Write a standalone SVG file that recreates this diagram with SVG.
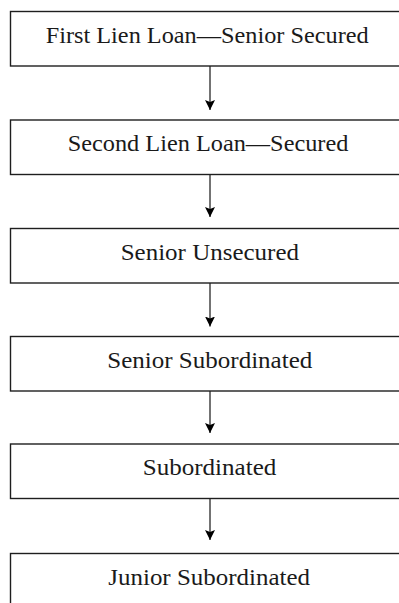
<svg xmlns="http://www.w3.org/2000/svg" width="399" height="603" viewBox="0 0 399 603">
<defs>
<style>
.box{fill:#fff;stroke:#1e1e1e;stroke-width:1.4}
.lbl{font-family:"Liberation Serif","Times New Roman",serif;font-size:23px;fill:#1a1a1a}
.conn{stroke:#444;stroke-width:1.5;fill:none}
</style>
<marker id="ah" viewBox="0 0 10 10" refX="10" refY="5" markerWidth="10" markerHeight="11" markerUnits="userSpaceOnUse" orient="auto">
<path d="M0,0 L10,5 L0,10 L2,5 Z" fill="#000"/>
</marker>
</defs>
<rect width="399" height="603" fill="#fff"/>
<g id="connectors">
<line class="conn" x1="210" y1="66" x2="210" y2="110" marker-end="url(#ah)"/>
<line class="conn" x1="210" y1="174.5" x2="210" y2="217" marker-end="url(#ah)"/>
<line class="conn" x1="210" y1="283" x2="210" y2="326.5" marker-end="url(#ah)"/>
<line class="conn" x1="210" y1="391" x2="210" y2="433" marker-end="url(#ah)"/>
<line class="conn" x1="210" y1="498.5" x2="210" y2="540" marker-end="url(#ah)"/>
</g>
<g id="node1">
<rect class="box" x="10.5" y="11.5" width="398" height="54.5"/>
<text class="lbl" x="45.7" y="42.7" textLength="323" lengthAdjust="spacingAndGlyphs">First Lien Loan—Senior Secured</text>
</g>
<g id="node2">
<rect class="box" x="10.5" y="120" width="398" height="54.5"/>
<text class="lbl" x="67.7" y="151" textLength="280.7" lengthAdjust="spacingAndGlyphs">Second Lien Loan—Secured</text>
</g>
<g id="node3">
<rect class="box" x="10.5" y="228.5" width="398" height="54.5"/>
<text class="lbl" x="120.7" y="259.5" textLength="178.3" lengthAdjust="spacingAndGlyphs">Senior Unsecured</text>
</g>
<g id="node4">
<rect class="box" x="10.5" y="336.5" width="398" height="54.5"/>
<text class="lbl" x="107.3" y="367.5" textLength="205" lengthAdjust="spacingAndGlyphs">Senior Subordinated</text>
</g>
<g id="node5">
<rect class="box" x="10.5" y="444" width="398" height="54.5"/>
<text class="lbl" x="142.7" y="475" textLength="133.7" lengthAdjust="spacingAndGlyphs">Subordinated</text>
</g>
<g id="node6">
<rect class="box" x="10.5" y="553.5" width="398" height="54.5"/>
<text class="lbl" x="108.3" y="585" textLength="201.7" lengthAdjust="spacingAndGlyphs">Junior Subordinated</text>
</g>
</svg>
